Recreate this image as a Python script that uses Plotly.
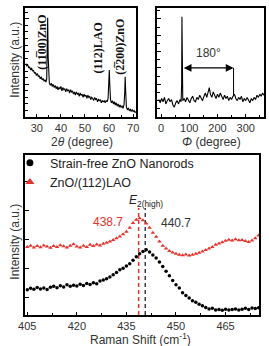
import plotly.graph_objects as go

# ---------------- data ----------------
# XRD 2theta scan
xrd_2theta = [25.4, 25.8, 26.2, 26.6, 27.0, 27.4, 27.8, 28.2, 28.6, 29.0, 29.4, 29.8, 30.2, 30.6,
              31.0, 31.4, 31.8, 32.2, 32.6, 33.0, 33.4, 33.8, 34.1, 34.3, 34.5, 34.7, 34.9, 35.2,
              35.6, 36.0, 36.4, 36.8, 37.2, 37.6, 38.0, 38.4, 38.8, 39.2, 39.6, 40.0, 40.4, 40.8,
              41.2, 41.6, 42.0, 42.4, 42.8, 43.2, 43.6, 44.0, 44.4, 44.8, 45.2, 45.6, 46.0, 46.4,
              46.8, 47.2, 47.6, 48.0, 48.4, 48.8, 49.2, 49.6, 50.0, 50.4, 50.8, 51.2, 51.6, 52.0,
              52.4, 52.8, 53.2, 53.6, 54.0, 54.4, 54.8, 55.2, 55.6, 56.0, 56.4, 56.8, 57.2, 57.6,
              58.0, 58.4, 58.8, 59.2, 59.6, 59.9, 60.1, 60.3, 60.6, 61.0, 61.4, 61.8, 62.2, 62.6,
              63.0, 63.4, 63.8, 64.2, 64.6, 65.0, 65.4, 65.8, 66.2, 66.5, 66.7, 66.9, 67.2, 67.6,
              68.0, 68.4, 68.8, 69.2, 69.6, 70.0, 70.4, 70.8, 71.1]
xrd_intensity = [49, 47, 48, 45, 46, 43, 45, 42, 43, 40, 41, 38, 40, 37,
                 38, 35, 37, 34, 35, 33, 34, 32, 35, 60, 91, 55, 33, 31,
                 29, 31, 28, 30, 27, 29, 26, 28, 25, 27, 26, 28, 24, 27,
                 25, 26, 23, 26, 24, 25, 22, 25, 23, 24, 21, 23, 20, 23,
                 21, 22, 19, 22, 20, 21, 18, 21, 19, 20, 17, 20, 18, 19,
                 16, 18, 17, 15, 18, 16, 17, 14, 16, 15, 16, 13, 15, 14,
                 15, 13, 15, 14, 17, 28, 43, 30, 16, 13, 15, 12, 14, 11,
                 13, 10, 12, 9, 11, 9, 10, 8, 11, 22, 37, 24, 9, 7,
                 8, 6, 7, 5, 7, 5, 6, 4, 5]
xrd_peak_labels = ["(11\u030500)ZnO", "(112)LAO", "(2\u0305200)ZnO"]
xrd_ticks = [30, 40, 50, 60, 70]

# Phi scan
phi_deg = [-8, -3, 2, 7, 12, 17, 22, 27, 32, 37, 42, 47, 52, 57, 62, 67, 71, 73, 74, 75, 77,
           82, 87, 92, 97, 102, 107, 112, 117, 122, 127, 132, 137, 142, 147, 152, 157, 162,
           167, 171, 175, 180, 185, 190, 195, 200, 205, 210, 215, 220, 225, 230, 235, 240,
           245, 250, 255, 260, 265, 270, 275, 280, 285, 290, 295, 300, 305, 310, 315, 320,
           325, 330, 335, 340, 345, 350, 355, 360, 364]
phi_intensity = [16, 13, 17, 14, 18, 12, 15, 17, 14, 16, 11, 9, 13, 15, 12, 16, 14, 30, 92, 30, 15,
                 17, 14, 18, 15, 13, 17, 19, 15, 14, 18, 16, 20, 17, 15, 19, 22, 18,
                 24, 27, 21, 18, 23, 20, 17, 21, 18, 22, 19, 16, 20, 17, 19, 15,
                 18, 16, 19, 21, 17, 15, 18, 16, 19, 14, 17, 15, 18, 16, 13, 17,
                 15, 18, 16, 20, 18, 21, 19, 22, 20]
phi_marks = [74, 257]
phi_arrow_level = 45
phi_mark_base = 19
phi_label = "180°"
phi_ticks = [0, 100, 200, 300]

# Raman spectra
raman_shift = list(range(405, 476))
strain_free = [0.28, 0.33, 0.30, 0.36, 0.31, 0.34, 0.29, 0.37, 0.40, 0.35, 0.42, 0.38, 0.45, 0.40,
               0.44, 0.41, 0.47, 0.43, 0.50, 0.46, 0.52, 0.49, 0.58, 0.62, 0.66, 0.72, 0.80, 0.88,
               0.97, 1.02, 1.10, 1.18, 1.30, 1.42, 1.52, 1.60, 1.66, 1.58, 1.48, 1.38, 1.24, 1.08,
               0.92, 0.76, 0.60, 0.45, 0.34, 0.18, 0.08, 0.00, -0.10, -0.15, -0.22, -0.27, -0.33,
               -0.38, -0.36, -0.42, -0.40, -0.43, -0.39, -0.42, -0.40, -0.38, -0.42, -0.39, -0.36,
               -0.40, -0.35, -0.37, -0.34]
zno_lao = [1.76, 1.80, 1.74, 1.79, 1.75, 1.81, 1.77, 1.73, 1.79, 1.76, 1.82, 1.78, 1.74, 1.80,
           1.85, 1.77, 1.74, 1.80, 1.76, 1.83, 1.79, 1.84, 1.81, 1.87, 1.90, 1.95, 2.00, 2.06,
           2.12, 2.20, 2.28, 2.42, 2.58, 2.70, 2.75, 2.68, 2.57, 2.42, 2.25, 2.11, 1.95, 1.80,
           1.70, 1.62, 1.57, 1.52, 1.49, 1.47, 1.50, 1.46, 1.49, 1.52, 1.56, 1.60, 1.65, 1.70,
           1.76, 1.83, 1.88, 1.92, 1.97, 2.01, 1.98, 2.02, 1.99, 2.00, 1.96, 1.93, 1.98, 2.06, 2.15]
series_names = ["Strain-free ZnO Nanorods", "ZnO/(112)LAO"]
e2_peaks = [438.7, 440.7]
e2_top = 3.1
raman_ticks = [405, 420, 435, 450, 465]

# ---------------- layout helpers ----------------
W, H = 269, 346
def fx(p):
    return p / W
def fy(p):
    return 1 - p / H

RED = "#e5322b"
DARK = "#3a3a48"
TXT = "#333333"
FONT = "Liberation Sans, Arial, sans-serif"

fig = go.Figure()

# XRD
fig.add_trace(go.Scatter(x=xrd_2theta, y=xrd_intensity, mode="lines",
                         line=dict(color="black", width=1.1), xaxis="x", yaxis="y", showlegend=False))
# Phi
fig.add_trace(go.Scatter(x=phi_deg, y=phi_intensity, mode="lines",
                         line=dict(color="black", width=1.1), xaxis="x2", yaxis="y2", showlegend=False))
# right 180-degree marker line
fig.add_trace(go.Scatter(x=[phi_marks[1], phi_marks[1]], y=[phi_arrow_level, phi_mark_base],
                         mode="lines", line=dict(color="black", width=1), xaxis="x2", yaxis="y2",
                         showlegend=False))

# Raman dashed peak lines
yr_min = -0.59
for pos, col in zip(e2_peaks, [RED, DARK]):
    fig.add_trace(go.Scatter(x=[pos, pos], y=[yr_min, e2_top], mode="lines",
                             line=dict(color=col, width=1.5, dash="4px,3px"),
                             xaxis="x3", yaxis="y3", showlegend=False))

fig.add_trace(go.Scatter(x=raman_shift, y=strain_free, mode="markers",
                         marker=dict(color="black", size=3.5, symbol="circle"),
                         xaxis="x3", yaxis="y3", showlegend=False))
fig.add_trace(go.Scatter(x=raman_shift, y=zno_lao, mode="markers",
                         marker=dict(color=RED, size=4, symbol="triangle-up"),
                         xaxis="x3", yaxis="y3", showlegend=False))
# legend entries
fig.add_trace(go.Scatter(x=[None], y=[None], mode="markers", name=series_names[0],
                         marker=dict(color="black", size=7, symbol="circle"), xaxis="x3", yaxis="y3"))
fig.add_trace(go.Scatter(x=[None], y=[None], mode="markers", name=series_names[1],
                         marker=dict(color=RED, size=8, symbol="triangle-up"), xaxis="x3", yaxis="y3"))

axis_common = dict(showline=True, linecolor="black", linewidth=1.6, mirror=True,
                   showgrid=False, zeroline=False, ticks="inside", tickcolor="black",
                   tickfont=dict(family=FONT, size=11, color=TXT))

fig.update_layout(
    width=W, height=H, margin=dict(l=0, r=0, t=0, b=0),
    paper_bgcolor="white", plot_bgcolor="white",
    font=dict(family=FONT, color=TXT),
    xaxis=dict(domain=[fx(19), fx(134)], range=[25.2, 71.2], tickvals=xrd_ticks,
               ticklen=3, tickwidth=1.2, minor=dict(dtick=5, ticklen=2, ticks="inside"),
               anchor="y", **axis_common),
    yaxis=dict(domain=[fy(117), fy(8)], range=[0, 100], dtick=30, showticklabels=False,
               ticklen=4, tickwidth=1, minor=dict(dtick=6, ticklen=2.5, ticks="inside"),
               anchor="x", **axis_common),
    xaxis2=dict(domain=[fx(156), fx(267)], range=[-13.7, 365.2], tickvals=phi_ticks,
                ticklen=3, tickwidth=1.2, minor=dict(dtick=50, ticklen=2, ticks="inside"),
                anchor="y2", **axis_common),
    yaxis2=dict(domain=[fy(117), fy(8)], range=[0, 100], dtick=15, showticklabels=False,
                ticklen=4, tickwidth=1, minor=dict(dtick=7.5, ticklen=2.5, ticks="inside"),
                anchor="x2", **axis_common),
    xaxis3=dict(domain=[fx(19), fx(262)], range=[404.4, 475.2], tickvals=raman_ticks,
                ticklen=3, tickwidth=1.2, minor=dict(dtick=7.5, ticklen=2, ticks="inside"),
                anchor="y3", **axis_common),
    yaxis3=dict(domain=[fy(315), fy(155)], range=[yr_min, 4.93], dtick=1, showticklabels=False,
                ticklen=4, tickwidth=1, anchor="x3", **axis_common),
    legend=dict(x=fx(3), y=fy(148), xanchor="left", yanchor="top", bgcolor="rgba(0,0,0,0)",
                font=dict(family=FONT, size=12.5, color="#222"), tracegroupgap=0,
                itemwidth=30),
    showlegend=True,
)

ann = []
# axis titles
for t, x, y, ang in [("Intensity (a.u.)", 8, 60, -90),
                     ("Intensity (a.u.)", 8, 242, -90),
                     ("2<i>θ</i> (degree)", 78, 142, 0),
                     ("<i>Φ</i> (degree)", 212, 142, 0),
                     ("Raman Shift (cm<sup>-1</sup>)", 139, 339, 0)]:
    ann.append(dict(text=t, x=fx(x), y=fy(y), xref="paper", yref="paper", showarrow=False,
                    textangle=ang, xanchor="center", yanchor="middle",
                    font=dict(family=FONT, size=12, color=TXT)))
# XRD peak labels
for t, x, y in zip(xrd_peak_labels, [36, 95, 117], [42, 48, 47]):
    ann.append(dict(text="<b>" + t + "</b>", x=fx(x), y=fy(y), xref="paper", yref="paper",
                    showarrow=False, textangle=-90, xanchor="center", yanchor="middle",
                    font=dict(family="Liberation Serif, DejaVu Serif, serif", size=12, color="#111")))
# phi double arrow
ann.append(dict(x=phi_marks[1], y=phi_arrow_level, ax=phi_marks[0] + 1, ay=phi_arrow_level,
                xref="x2", yref="y2", axref="x2", ayref="y2", text="", showarrow=True,
                arrowhead=2, startarrowhead=2, arrowside="end+start", arrowsize=1.2,
                arrowwidth=1.3, arrowcolor="black"))
ann.append(dict(text=phi_label, x=fx(209), y=fy(53), xref="paper", yref="paper", showarrow=False,
                xanchor="center", yanchor="middle", font=dict(family=FONT, size=12, color=TXT)))
# Raman labels
ann.append(dict(text="<i>E</i><sub>2(high)</sub>", x=fx(144), y=fy(201), xref="paper", yref="paper",
                showarrow=False, xanchor="center", yanchor="middle",
                font=dict(family=FONT, size=12, color="#222")))
ann.append(dict(text=f"{e2_peaks[0]}", x=fx(105), y=fy(222), xref="paper", yref="paper",
                showarrow=False, xanchor="center", yanchor="middle",
                font=dict(family=FONT, size=12, color=RED)))
ann.append(dict(text=f"{e2_peaks[1]}", x=fx(176), y=fy(223), xref="paper", yref="paper",
                showarrow=False, xanchor="center", yanchor="middle",
                font=dict(family=FONT, size=12, color=TXT)))
fig.update_layout(annotations=ann)

fig.write_html("out.html")
